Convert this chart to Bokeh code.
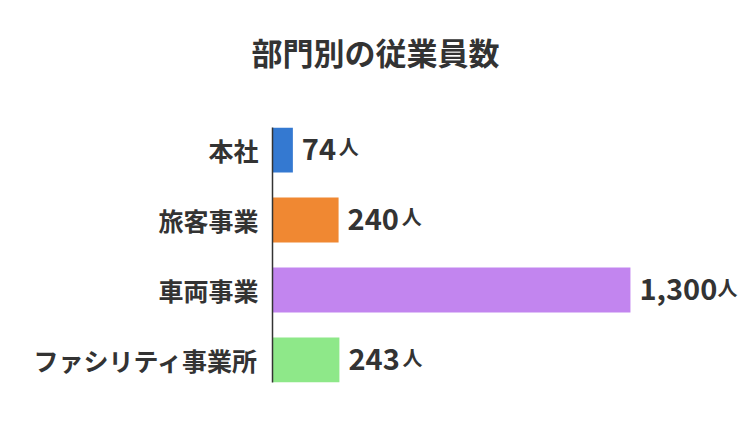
from bokeh.plotting import figure
from bokeh.models import FactorRange, Range1d, ColumnDataSource, Title
from bokeh.core.properties import value
from bokeh.embed import file_html
from bokeh.resources import INLINE

title_text = "部門別の従業員数"
categories = ["本社", "旅客事業", "車両事業", "ファシリティ事業所"]
counts = [74, 240, 1300, 243]
colors = ["#3479d1", "#f08832", "#c285ef", "#8ee889"]
unit = "人"

FONT = "Noto Sans CJK JP"
TXT = "#333333"
NUM_SIZE = 29

labels = [f"{v:,}" for v in counts]


def label_width(s):
    return sum(0.22 * NUM_SIZE if c == "," else 0.60 * NUM_SIZE for c in s)


src = ColumnDataSource(dict(
    cat=categories,
    val=counts,
    color=colors,
    label=labels,
    unit=[unit] * len(categories),
    uoff=[9 + label_width(s) + 2 for s in labels],
))

yr = FactorRange(factors=categories[::-1], range_padding=-0.179,
                 range_padding_units="absolute")
p = figure(title=None, y_range=yr, x_range=Range1d(0, 1707),
           frame_width=470, frame_height=255,
           min_border_left=272, min_border_right=0,
           min_border_top=127, min_border_bottom=32,
           output_backend="svg", toolbar_location=None,
           background_fill_color="white", border_fill_color="white")

# spacer between the title and the plot area
p.add_layout(Title(text=" ", text_font_size="1px", standoff=51), "above")
p.add_layout(Title(text=title_text, align="left", offset=-21,
                   text_font=FONT, text_font_size="31px",
                   text_font_style="bold", text_color=TXT, standoff=0),
             "above")

p.hbar(y="cat", right="val", left=0, height=0.643, color="color",
       line_color=None, source=src)

p.text(x="val", y="cat", text="label", x_offset=9, y_offset=-1,
       text_baseline="alphabetic", text_align="left",
       text_font=value(FONT), text_font_size=f"{NUM_SIZE}px",
       text_font_style="bold", text_color=TXT, source=src)
p.text(x="val", y="cat", text="unit", x_offset="uoff", y_offset=-3,
       text_baseline="alphabetic", text_align="left",
       text_font=value(FONT), text_font_size="20px", text_font_style="bold",
       text_color=TXT, source=src)

p.xaxis.visible = False
p.grid.visible = False
p.outline_line_color = None

ax = p.yaxis[0]
ax.major_label_text_font = FONT
ax.major_label_text_font_size = "25px"
ax.major_label_text_font_style = "bold"
ax.major_label_text_color = TXT
ax.major_tick_line_color = None
ax.minor_tick_line_color = None
ax.axis_line_color = TXT
ax.axis_line_width = 1.5
ax.major_label_standoff = 8

open("out.html", "w").write(file_html(p, INLINE))
